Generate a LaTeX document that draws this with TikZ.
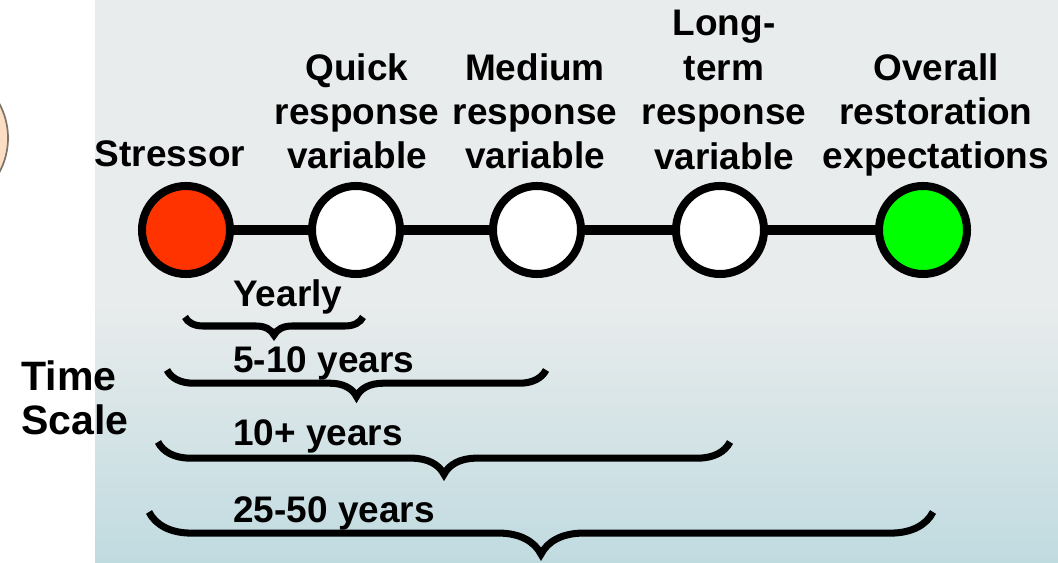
\documentclass[tikz,border=0pt]{standalone}
\usepackage{fontspec}
\setmainfont{Liberation Sans}
\usetikzlibrary{positioning, decorations.pathreplacing}

\definecolor{StressRed}{RGB}{255,51,0}
\definecolor{GoalGreen}{RGB}{0,255,0}
\definecolor{SkyTop}{RGB}{233,236,236}
\definecolor{SkyMid}{RGB}{226,232,232}
\definecolor{SkyBottom}{RGB}{192,219,224}
\definecolor{Peach}{RGB}{252,222,196}
\definecolor{PeachEdge}{RGB}{125,115,105}

\tikzset{
	bigbold/.style={font=\bfseries\fontsize{26.3}{31.6}\selectfont},
	stage/.style={circle, draw=black, line width=5.7pt, minimum size=2.2cm, inner sep=0pt},
	link/.style={line width=7pt},
	stagelabel/.style={bigbold, align=center, anchor=north, inner sep=0pt},
	spanlabel/.style={bigbold, anchor=base west, inner sep=0pt},
	timebrace/.style={decorate, decoration={brace, amplitude=#1}, line width=5pt}
}

\begin{document}
\begin{tikzpicture}[x=0.025cm, y=0.025cm]
	\useasboundingbox (0,-563) rectangle (1058,0);
	\begin{scope}
		\clip (0,-563) rectangle (1058,0);
		\fill[white] (0,-563) rectangle (1058,0);
		\fill[SkyTop] (95,-300) rectangle (1058,0);
		\shade[top color=SkyTop, middle color=SkyMid, bottom color=SkyBottom] (95,-563) rectangle (1058,-300);
		% edge of the neighbouring bubble
		\draw[PeachEdge, line width=1.2pt, fill=Peach] (-64,-138) circle (72);
	\end{scope}

	% chain of stages
	\node[stage, fill=StressRed] (st) at (186,-230) {};
	\node[stage, fill=white] (qr) at (356,-230) {};
	\node[stage, fill=white] (mr) at (537,-230) {};
	\node[stage, fill=white] (lr) at (720,-230) {};
	\node[stage, fill=GoalGreen] (ov) at (923,-230) {};
	\foreach \a/\b in {st/qr, qr/mr, mr/lr, lr/ov}
		\draw[link] (\a) -- (\b);

	\node[stagelabel] (stl) at (170,-140) {Stressor};
	\node[stagelabel] (qrl) at (357,-53) {Quick\\response\\variable};
	\node[stagelabel] (mrl) at (535,-53) {Medium\\response\\variable};
	\node[stagelabel] (lrl) at (724,-10) {Long-\\term\\response\\variable};
	\node[stagelabel] (ovl) at (936,-53) {Overall\\restoration\\expectations};

	% time spans
	\node[font=\bfseries\fontsize{29.2}{31.3}\selectfont, align=left, anchor=north west,
		inner sep=0pt] (ts) at (21,-360) {Time\\Scale};
	\foreach \n/\xl/\xr/\yy/\amp in {1/185/363/317/12.8pt, 2/167/546/370/18.8pt,
			3/158/730/442/23pt, 4/149/933/512/30pt} {
		\coordinate (bl\n) at (\xl,-\yy);
		\coordinate (br\n) at (\xr,-\yy);
		\draw[timebrace=\amp] (br\n) -- (bl\n);
	}
	\node[spanlabel] (yr1) at (233,-307) {Yearly};
	\node[spanlabel] (yr2) at (233,-372) {5-10 years};
	\node[spanlabel] (yr3) at (233,-445) {10+ years};
	\node[spanlabel] (yr4) at (233,-522) {25-50 years};
\end{tikzpicture}
\end{document}
